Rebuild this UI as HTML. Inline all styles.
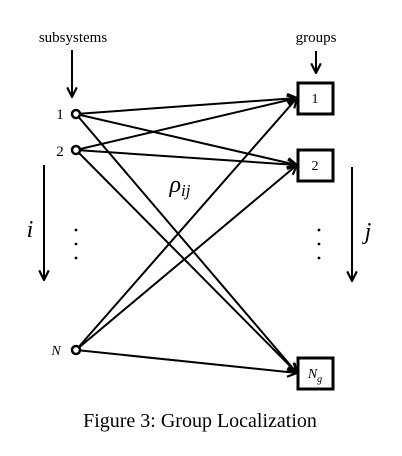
<!DOCTYPE html>
<html><head><meta charset="utf-8"><style>
html,body{margin:0;padding:0;background:#fff;}
svg{display:block;font-family:"Liberation Serif",serif;}
</style></head><body>
<svg width="402" height="456" viewBox="0 0 402 456">
<defs>
<marker id="ah" viewBox="0 0 10 10" refX="9" refY="5" markerWidth="12" markerHeight="12" markerUnits="userSpaceOnUse" orient="auto">
<path d="M1,1 L9,5 L1,9" fill="none" stroke="#000" stroke-width="1.8"/>
</marker>
</defs>
<g id="edges" stroke="#000" stroke-width="2" fill="none"></g>
<g>
<text x="73" y="42" font-size="15" text-anchor="middle">subsystems</text>
<line x1="72" y1="50" x2="72" y2="97" stroke="#000" stroke-width="2" marker-end="url(#ah)"/>
</g>
<g>
<text x="316" y="42" font-size="15" text-anchor="middle">groups</text>
<line x1="316" y1="51" x2="316" y2="73" stroke="#000" stroke-width="2" marker-end="url(#ah)"/>
</g>
<g id="nodes"></g>
<text x="60" y="119" font-size="15" text-anchor="middle">1</text>
<text x="60" y="156" font-size="15" text-anchor="middle">2</text>
<text x="56" y="355" font-size="14" font-style="italic" text-anchor="middle">N</text>
<g>
<line x1="44" y1="165" x2="44" y2="280" stroke="#000" stroke-width="2" marker-end="url(#ah)"/>
<text x="30" y="237" font-size="24" font-style="italic" text-anchor="middle">i</text>
</g>
<g>
<line x1="352" y1="167" x2="352" y2="281" stroke="#000" stroke-width="2" marker-end="url(#ah)"/>
<text x="368" y="239" font-size="24" font-style="italic" text-anchor="middle">j</text>
</g>
<g fill="#000">
<circle cx="76" cy="230" r="1.4"/><circle cx="76" cy="244" r="1.4"/><circle cx="76" cy="258" r="1.4"/>
</g>
<g fill="#000">
<circle cx="319" cy="230" r="1.4"/><circle cx="319" cy="244" r="1.4"/><circle cx="319" cy="258" r="1.4"/>
</g>
<text x="180" y="192" font-size="24" font-style="italic" text-anchor="middle">ρ<tspan font-size="17" dy="4">ij</tspan></text>
<text x="200" y="427" font-size="20" text-anchor="middle">Figure 3: Group Localization</text>
</svg>
<script>
const subsystems=['1','2','N'];
const subsystemY=[114,150,350];
const groups=['1','2','Ng'];
const groupY=[98,165,373];
const NS='http://www.w3.org/2000/svg';
const edges=document.getElementById('edges');
const nodes=document.getElementById('nodes');
const sx=76, bx=298;
subsystems.forEach((s,i)=>{
  groups.forEach((g,j)=>{
    const l=document.createElementNS(NS,'line');
    l.setAttribute('x1',sx);l.setAttribute('y1',subsystemY[i]);
    l.setAttribute('x2',bx-1);l.setAttribute('y2',groupY[j]);
    l.setAttribute('marker-end','url(#ah)');
    
    
    edges.appendChild(l);
  });
  const c=document.createElementNS(NS,'circle');
  c.setAttribute('cx',sx);c.setAttribute('cy',subsystemY[i]);c.setAttribute('r',4);
  c.setAttribute('fill','#fff');c.setAttribute('stroke','#000');c.setAttribute('stroke-width',2.5);
  
  
  nodes.appendChild(c);
});
groups.forEach((g,j)=>{
  const r=document.createElementNS(NS,'rect');
  r.setAttribute('x',bx);r.setAttribute('y',groupY[j]-15);r.setAttribute('width',35);r.setAttribute('height',31);
  r.setAttribute('fill','#fff');r.setAttribute('stroke','#000');r.setAttribute('stroke-width',3);
  
  
  nodes.appendChild(r);
  const t=document.createElementNS(NS,'text');
  t.setAttribute('x',bx+17);t.setAttribute('y',groupY[j]+5);
  t.setAttribute('text-anchor','middle');t.setAttribute('font-size',14);
  
  
  if(g==='Ng'){t.setAttribute('font-style','italic');t.innerHTML='N<tspan font-size="10" dy="4">g</tspan>';}
  else t.textContent=g;
  nodes.appendChild(t);
});
</script>
</body></html>
